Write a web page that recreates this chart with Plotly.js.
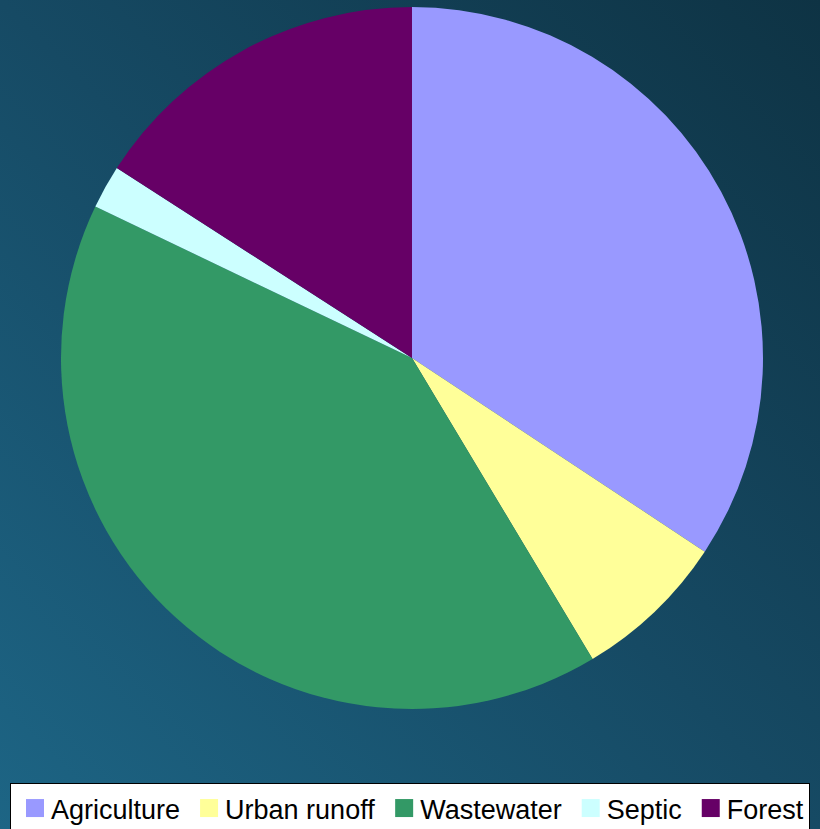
<!DOCTYPE html>
<html>
<head>
<meta charset="utf-8">
<script src="https://cdn.plot.ly/plotly-3.0.1.min.js"></script>
<style>
html, body { margin: 0; padding: 0; width: 820px; height: 829px; overflow: hidden; }
#chart { width: 820px; height: 829px;
  background: linear-gradient(to top right, #1d6585 0%, #164a64 50%, #0e3344 100%); }
</style>
</head>
<body>
<div id="chart"></div>
<script>
const categories = ["Agriculture", "Urban runoff", "Wastewater", "Septic", "Forest"];
const values = [34.3, 7.1, 40.7, 2.0, 15.9];
const colors = ["#9999ff", "#ffff99", "#339966", "#ccffff", "#660066"];

const W = 820, H = 829;
const cx = 412, cy = 358, r = 351;

const trace = {
  type: "pie",
  labels: categories,
  values: values,
  sort: false,
  direction: "clockwise",
  rotation: 0,
  textinfo: "none",
  hoverinfo: "label+percent",
  marker: { colors: colors, line: { width: 0 } },
  domain: {
    x: [(cx - r) / W, (cx + r) / W],
    y: [1 - (cy + r) / H, 1 - (cy - r) / H]
  }
};

const layout = {
  width: W, height: H,
  margin: { l: 0, r: 0, t: 0, b: 0, autoexpand: false },
  paper_bgcolor: "rgba(0,0,0,0)",
  plot_bgcolor: "rgba(0,0,0,0)",
  showlegend: true,
  legend: {
    orientation: "h",
    x: 10 / W, xanchor: "left",
    y: 1 - 783 / H, yanchor: "top",
    bgcolor: "#ffffff",
    bordercolor: "#000000",
    borderwidth: 1,
    itemwidth: 30,
    font: { family: "Liberation Sans, Arial, sans-serif", size: 27, color: "#000000" },
    traceorder: "normal"
  }
};

Plotly.newPlot("chart", [trace], layout, { staticPlot: true, displayModeBar: false }).then(function () {
  document.querySelectorAll("#chart .legendpoints path").forEach(function (p) {
    const t = p.getAttribute("transform") || "";
    p.setAttribute("transform", t + " translate(4,0) scale(1.5)");
  });
});
</script>
</body>
</html>
